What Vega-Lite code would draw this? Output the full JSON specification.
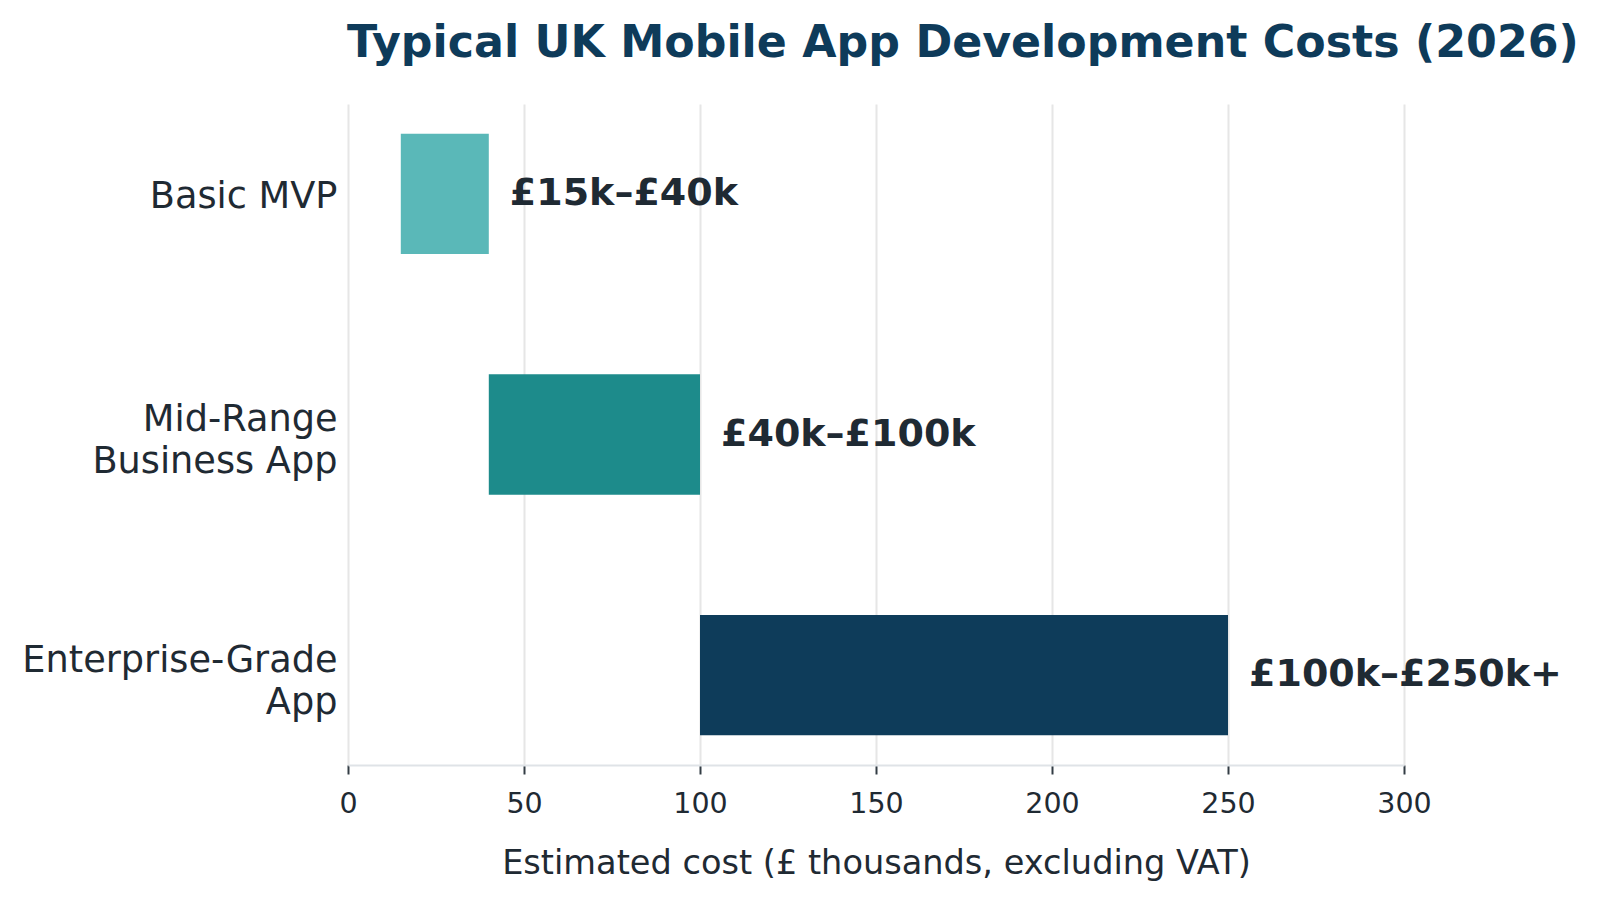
{
  "$schema": "https://vega.github.io/schema/vega-lite/v6.json",
  "width": 1056,
  "height": 661,
  "autosize": {"type": "none"},
  "padding": {"left": 348, "top": 104, "right": 196, "bottom": 136},
  "background": "white",
  "title": {
    "text": "Typical UK Mobile App Development Costs (2026)",
    "anchor": "start",
    "frame": "group",
    "dx": -1,
    "offset": 3,
    "baseline": "alphabetic",
    "font": "DejaVu Sans",
    "fontSize": 44.3,
    "fontWeight": "bold",
    "color": "#0e3b5a"
  },
  "data": {
    "values": [
      {"app": "Basic MVP", "low": 15, "high": 40, "label": "£15k–£40k"},
      {"app": "Mid-Range\nBusiness App", "low": 40, "high": 100, "label": "£40k–£100k"},
      {"app": "Enterprise-Grade\nApp", "low": 100, "high": 250, "label": "£100k–£250k+"}
    ]
  },
  "encoding": {
    "y": {
      "field": "app",
      "type": "nominal",
      "sort": null,
      "scale": {"paddingInner": 0.5, "paddingOuter": 0.124},
      "axis": {
        "title": null,
        "domain": false,
        "ticks": false,
        "grid": false,
        "labelExpr": "split(datum.label, '\\n')",
        "labelFont": "DejaVu Sans",
        "labelFontSize": 36.7,
        "labelColor": "#1f2a33",
        "labelPadding": 11,
        "labelLineHeight": 42,
        "labelLimit": 400,
        "labelOffset": {"condition": {"test": "datum.value === 'Basic MVP'", "value": 3}, "value": -14.5}
      }
    }
  },
  "layer": [
    {
      "mark": {"type": "bar", "cornerRadius": 0},
      "encoding": {
        "x": {
          "field": "low",
          "type": "quantitative",
          "scale": {"domain": [0, 300], "nice": false},
          "axis": {
            "values": [0, 50, 100, 150, 200, 250, 300],
            "title": "Estimated cost (£ thousands, excluding VAT)",
            "titleFont": "DejaVu Sans",
            "titleFontSize": 33.6,
            "titleFontWeight": "normal",
            "titleColor": "#1f2a33",
            "titlePadding": 29,
            "grid": true,
            "gridColor": "#e6e6e6",
            "gridWidth": 2,
            "domainColor": "#dfe3e7",
            "domainWidth": 2,
            "tickColor": "#333c44",
            "tickWidth": 2,
            "tickSize": 9,
            "labelFlush": false,
            "labelFont": "DejaVu Sans",
            "labelFontSize": 28.5,
            "labelColor": "#1f2a33",
            "labelPadding": 15
          }
        },
        "x2": {"field": "high"},
        "color": {
          "field": "app",
          "type": "nominal",
          "scale": {
            "domain": ["Basic MVP", "Mid-Range\nBusiness App", "Enterprise-Grade\nApp"],
            "range": ["#5ab8b8", "#1d8b8b", "#0e3c5a"]
          },
          "legend": null
        }
      }
    },
    {
      "mark": {
        "type": "text",
        "align": "left",
        "baseline": "middle",
        "dx": 21,
        "font": "DejaVu Sans",
        "fontSize": 38,
        "fontWeight": "bold",
        "color": "#1f2a33"
      },
      "encoding": {
        "x": {"field": "high", "type": "quantitative"},
        "text": {"field": "label"}
      }
    }
  ],
  "config": {
    "view": {"stroke": null}
  }
}
